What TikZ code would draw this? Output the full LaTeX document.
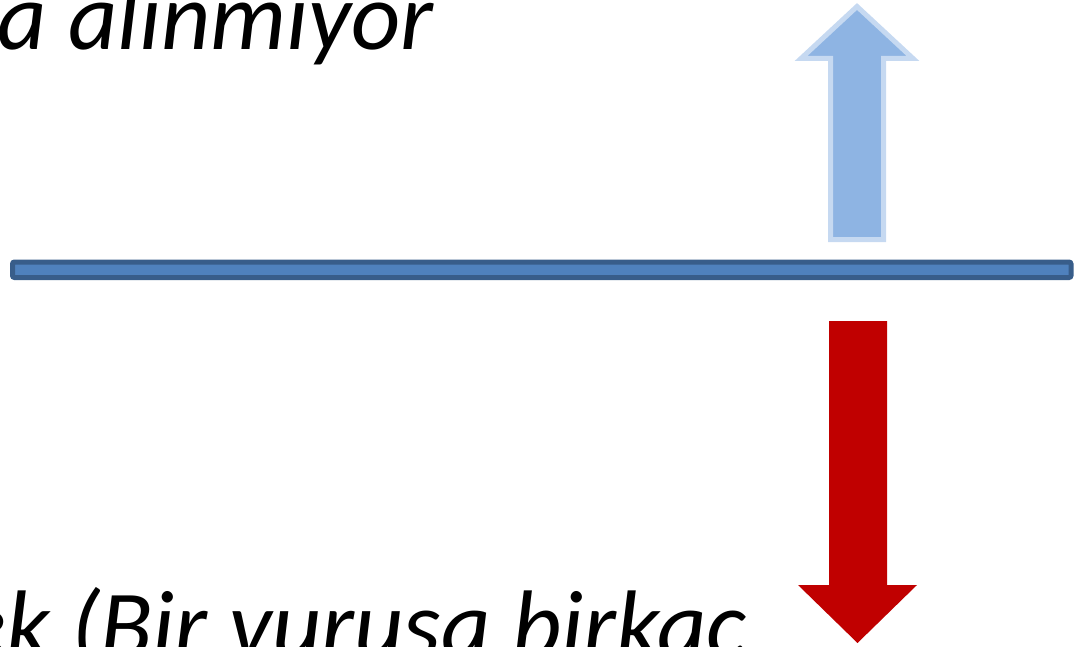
\documentclass[tikz,border=0pt]{standalone}
\usepackage{fontspec}
\setmainfont{Carlito}
\definecolor{barfill}{HTML}{4F81BD}
\definecolor{barline}{HTML}{385D8A}
\definecolor{upfill}{HTML}{8EB4E3}
\definecolor{upline}{HTML}{C6D9F1}
\definecolor{downfill}{HTML}{C00000}
\tikzset{
  bigtext/.style={inner sep=0pt, anchor=base west, font=\fontsize{96}{115}\selectfont\itshape},
  bar/.style={fill=barfill, draw=barline, line width=5pt, rounded corners=2pt},
  uparrow/.style={fill=upfill, draw=upline, line width=5pt, line join=miter},
  downarrow/.style={fill=downfill, draw=none}
}
\begin{document}
\begin{tikzpicture}[x=1pt,y=-1pt]
\useasboundingbox (0,0) rectangle (1084,647);
\clip (0,0) rectangle (1084,647);
\node[bigtext] (toptext) at (-3,50) {a alınmıyor};
\node[bigtext] (bottext) at (-40,657) {ek (Bir vuruşa birkaç};
\draw[bar] (12.5,262) rectangle (1071,277.5);
\draw[uparrow] (830.5,239.5) -- (830.5,58.5) -- (801,58.5) -- (857,6.5) -- (913,58.5) -- (883.5,58.5) -- (883.5,239.5) -- cycle;
\fill[downarrow] (829,321) -- (829,585) -- (798,585) -- (857.5,643) -- (917,585) -- (887,585) -- (887,321) -- cycle;
\end{tikzpicture}
\end{document}
